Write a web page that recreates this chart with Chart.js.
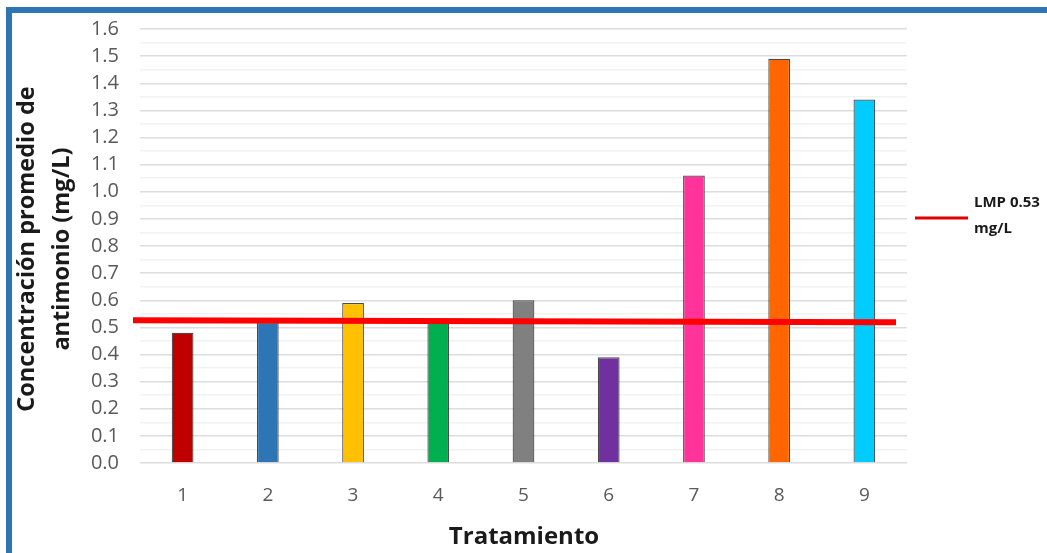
<!DOCTYPE html>
<html>
<head>
<meta charset="utf-8">
<script src="https://cdn.jsdelivr.net/npm/chart.js@4"></script>
<style>
  html, body { margin: 0; padding: 0; background: #ffffff; }
  #wrap { position: relative; width: 1047px; height: 553px; overflow: hidden; }
  #frame { position: absolute; left: 6px; top: 7px; width: 1100px; height: 600px;
           border-top: 6px solid #2E75B6; border-left: 6px solid #2E75B6; }
  canvas { position: absolute; left: 0; top: -4px; }
</style>
</head>
<body>
<div id="wrap">
  <div id="frame"></div>
  <canvas id="c" width="1047" height="557"></canvas>
</div>
<script>
// Tratamientos y concentración promedio de antimonio (mg/L)
const categories = ['1', '2', '3', '4', '5', '6', '7', '8', '9'];
const concentracion = [0.48, 0.52, 0.59, 0.53, 0.60, 0.39, 1.06, 1.49, 1.34];
const barColors = ['#C00000', '#2E75B6', '#FFC000', '#00B050', '#808080',
                   '#7030A0', '#FF3399', '#FF6600', '#00CCFF'];
const lmpValue = 0.53;
const lmpLabel = ['LMP 0.53', 'mg/L'];
const yTitle = ['Concentración promedio de', 'antimonio (mg/L)'];
const xTitle = 'Tratamiento';

const tickFont = "'Liberation Sans Narrow', 'Open Sans', sans-serif";
const titleFont = "'Open Sans', 'Liberation Sans', sans-serif";
const dy = 4; // the canvas sits 4px above the page top

// Límite máximo permisible, leyenda y títulos de ejes
const overlay = {
  id: 'overlay',
  afterDatasetsDraw(chart) {
    const { ctx, chartArea, scales } = chart;
    const y = scales.y.getPixelForValue(lmpValue);
    ctx.save();
    ctx.strokeStyle = '#FF0000';
    ctx.lineWidth = 6;
    ctx.beginPath();
    ctx.moveTo(chartArea.left - 7, y + 1);
    ctx.lineTo(chartArea.right - 11, y + 3);
    ctx.stroke();
    ctx.restore();
  },
  afterDraw(chart) {
    const { ctx } = chart;
    ctx.save();
    ctx.translate(0, dy);
    // leyenda
    ctx.strokeStyle = '#E00000';
    ctx.lineWidth = 3;
    ctx.beginPath();
    ctx.moveTo(915, 218);
    ctx.lineTo(968, 218);
    ctx.stroke();
    ctx.fillStyle = '#1a1a1a';
    ctx.font = "bold 15px " + titleFont;
    ctx.textAlign = 'left';
    ctx.textBaseline = 'middle';
    ctx.fillText(lmpLabel[0], 974, 203);
    ctx.fillText(lmpLabel[1], 974, 229);
    // título eje X
    ctx.font = "bold 24px " + titleFont;
    ctx.textAlign = 'center';
    ctx.fillText(xTitle, 524, 537);
    // título eje Y
    ctx.translate(0, 249);
    ctx.rotate(-Math.PI / 2);
    ctx.font = "bold 23.5px " + titleFont;
    ctx.fillText(yTitle[0], 0, 27);
    ctx.fillText(yTitle[1], 0, 62);
    ctx.restore();
  }
};

new Chart(document.getElementById('c'), {
  type: 'bar',
  data: {
    labels: categories,
    datasets: [{
      data: concentracion,
      backgroundColor: barColors,
      borderColor: 'rgba(30,30,30,0.8)',
      borderWidth: 1.2,
      barPercentage: 0.255,
      categoryPercentage: 1
    }]
  },
  options: {
    responsive: false,
    animation: false,
    layout: { padding: { left: 0, right: 140, top: 16, bottom: 0 } },
    plugins: { legend: { display: false }, tooltip: { enabled: false } },
    scales: {
      x: {
        grid: { display: false },
        border: { display: false },
        ticks: { color: '#595959', font: { family: tickFont, size: 19 }, padding: 13 },
        afterFit(scale) { scale.height = 90; }
      },
      y: {
        min: 0, max: 1.6,
        border: { display: false },
        grid: {
          color: (ctx) => {
            const v = Math.round(ctx.tick.value * 100);
            return v % 10 === 0 ? '#dddddd' : '#f2f2f2';
          },
          lineWidth: 1.5,
          drawTicks: false
        },
        ticks: {
          stepSize: 0.05,
          autoSkip: false,
          color: '#595959',
          font: { family: tickFont, size: 20 },
          padding: 21,
          callback: (v) => (Math.round(v * 100) % 10 === 0 ? v.toFixed(1) : '')
        },
        afterFit(scale) { scale.width = 140; }
      }
    }
  },
  plugins: [overlay]
});
</script>
</body>
</html>
